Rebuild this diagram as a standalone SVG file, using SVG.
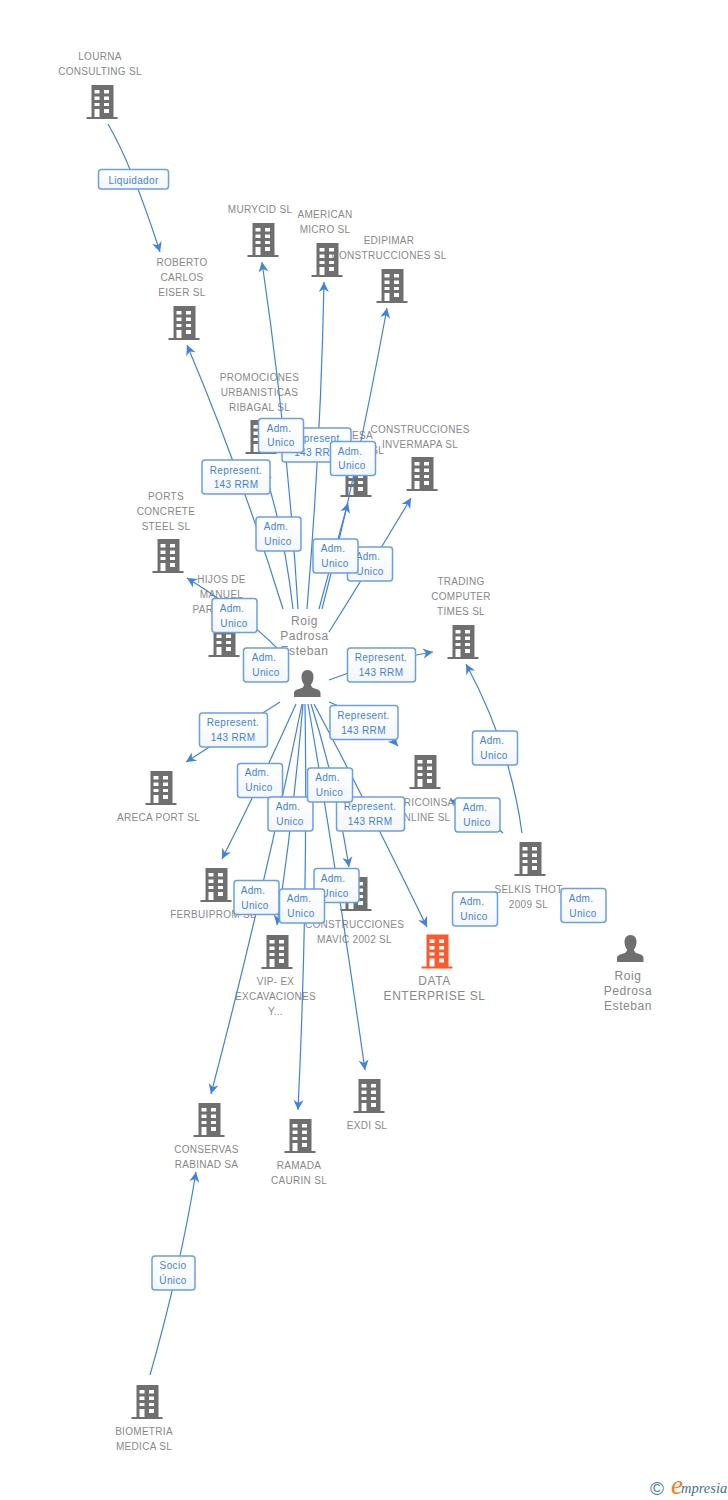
<svg xmlns="http://www.w3.org/2000/svg" width="728" height="1500" viewBox="0 0 728 1500">
<style>
text{font-family:"Liberation Sans",Arial,sans-serif}
.n{font-size:10px;letter-spacing:.3px;fill:#888;text-anchor:middle}
.b{font-size:12px;letter-spacing:.55px;fill:#888;text-anchor:middle}
.e path{fill:none;stroke:#3f82e0;stroke-width:1.2}
.l rect{fill:url(#g);stroke:#6a9fe8;stroke-width:1.5}
.l text{font-size:10px;letter-spacing:.35px;fill:#3f82e0;text-anchor:middle}
</style>
<defs>
<linearGradient id="g" x1="0" y1="0" x2="0" y2="1"><stop offset="0" stop-color="#fff"/><stop offset="1" stop-color="#f4f6fa"/></linearGradient>
<marker id="a" markerUnits="userSpaceOnUse" markerWidth="14" markerHeight="12" refX="11" refY="6" orient="auto"><path d="M11,6 L1,1 L4,6 L1,11Z" fill="#3f82e0"/></marker>
<symbol id="bd" width="31" height="34" viewBox="0 0 31 34" overflow="visible"><path fill-rule="evenodd" d="M5,0H27V32H31V34H0V32H5ZM8,5V8.5H13V5ZM17.5,5V8.5H22.5V5ZM8,11.5V15H13V11.5ZM17.5,11.5V15H22.5V11.5ZM8,18V21H13V18ZM17.5,18V21H22.5V18ZM8,24V32H13V24ZM17.5,24V28H22.5V24Z"/></symbol>
<symbol id="pr" width="27" height="27" viewBox="0 0 27 27"><path d="M13.5,0C17.5,0 19.5,3 19.5,7C19.5,10 18.5,12.5 17,14.5C17,16.5 18,17.5 20,18.3C24,19.5 26.5,20.5 26.5,23V27H0V23C0,20.5 3,19.5 7,18.3C9,17.5 10,16.5 10,14.5C8.5,12.5 7.5,10 7.5,7C7.5,3 9.5,0 13.5,0Z"/></symbol>
</defs>
<g id="n-lourna" fill="#6f6f6f"><use href="#bd" x="86.5" y="85"/><text class="n" x="100" y="60">LOURNA</text><text class="n" x="100" y="75">CONSULTING SL</text></g>
<g id="n-roberto" fill="#6f6f6f"><use href="#bd" x="168.5" y="306"/><text class="n" x="182" y="266">ROBERTO</text><text class="n" x="182" y="281">CARLOS</text><text class="n" x="182" y="296">EISER SL</text></g>
<g id="n-murycid" fill="#6f6f6f"><use href="#bd" x="247.5" y="223"/><text class="n" x="260" y="213">MURYCID SL</text></g>
<g id="n-edipimar" fill="#6f6f6f"><use href="#bd" x="376.5" y="269"/><text class="n" x="389" y="244">EDIPIMAR</text><text class="n" x="389" y="259">CONSTRUCCIONES SL</text></g>
<g id="n-american" fill="#6f6f6f"><use href="#bd" x="311.5" y="243"/><text class="n" x="325" y="218">AMERICAN</text><text class="n" x="325" y="233">MICRO SL</text></g>
<g id="n-promociones" fill="#6f6f6f"><use href="#bd" x="245.5" y="420"/><text class="n" x="259.5" y="381">PROMOCIONES</text><text class="n" x="259.5" y="396">URBANISTICAS</text><text class="n" x="259.5" y="411">RIBAGAL SL</text></g>
<g id="n-esa" fill="#6f6f6f"><use href="#bd" x="340.5" y="463"/><text class="n" style="text-anchor:end" x="373" y="439">ESA</text><text class="n" style="text-anchor:end" x="384" y="454">SL</text></g>
<g id="n-invermapa" fill="#6f6f6f"><use href="#bd" x="406.5" y="457"/><text class="n" x="420" y="433">CONSTRUCCIONES</text><text class="n" x="420" y="448">INVERMAPA SL</text></g>
<g id="n-ports" fill="#6f6f6f"><use href="#bd" x="152.5" y="539"/><text class="n" x="166" y="500">PORTS</text><text class="n" x="166" y="515">CONCRETE</text><text class="n" x="166" y="530">STEEL SL</text></g>
<g id="n-hijos" fill="#6f6f6f"><use href="#bd" x="208.5" y="623"/><text class="n" x="221.5" y="583">HIJOS DE</text><text class="n" x="221.5" y="598">MANUEL</text><text class="n" style="text-anchor:start" x="192.5" y="613">PAR</text></g>
<g id="n-trading" fill="#6f6f6f"><use href="#bd" x="447.5" y="625"/><text class="n" x="461" y="585">TRADING</text><text class="n" x="461" y="600">COMPUTER</text><text class="n" x="461" y="615">TIMES SL</text></g>
<g id="n-areca" fill="#6f6f6f"><use href="#bd" x="145.5" y="771"/><text class="n" x="158.5" y="821">ARECA PORT SL</text></g>
<g id="n-ferbuiprom" fill="#6f6f6f"><use href="#bd" x="200.5" y="868"/><text class="n" x="213" y="918">FERBUIPROM SL</text></g>
<g id="n-vip" fill="#6f6f6f"><use href="#bd" x="261.5" y="935"/><text class="n" x="275.5" y="985">VIP- EX</text><text class="n" x="275.5" y="1000">EXCAVACIONES</text><text class="n" x="275.5" y="1015">Y...</text></g>
<g id="n-mavic" fill="#6f6f6f"><use href="#bd" x="340.5" y="877"/><text class="n" x="354.5" y="928">CONSTRUCCIONES</text><text class="n" x="354.5" y="943">MAVIC 2002 SL</text></g>
<g id="n-tricoinsa" fill="#6f6f6f"><use href="#bd" x="409.5" y="755"/><text class="n" x="426" y="806">TRICOINSA</text><text class="n" x="423" y="821">ONLINE SL</text></g>
<g id="n-data" fill="#fa5a2c"><use href="#bd" x="421.5" y="934.5"/><text class="b" x="434.5" y="985">DATA</text><text class="b" x="434.5" y="1000">ENTERPRISE SL</text></g>
<g id="n-selkis" fill="#6f6f6f"><use href="#bd" x="514.5" y="842"/><text class="n" x="528.5" y="893">SELKIS THOT</text><text class="n" x="528.5" y="908">2009 SL</text></g>
<g id="n-roig2" fill="#6f6f6f"><use href="#pr" x="617" y="935"/><text class="b" x="628" y="980">Roig</text><text class="b" x="628" y="995">Pedrosa</text><text class="b" x="628" y="1010">Esteban</text></g>
<g id="n-roig1" fill="#6f6f6f"><use href="#pr" x="294" y="670"/><text class="b" x="304.5" y="625">Roig</text><text class="b" x="304.5" y="640">Padrosa</text><text class="b" x="304.5" y="655">Esteban</text></g>
<g id="n-exdi" fill="#6f6f6f"><use href="#bd" x="353.5" y="1079"/><text class="n" x="367" y="1129">EXDI SL</text></g>
<g id="n-conservas" fill="#6f6f6f"><use href="#bd" x="193.5" y="1103"/><text class="n" x="206.5" y="1153">CONSERVAS</text><text class="n" x="206.5" y="1168">RABINAD SA</text></g>
<g id="n-ramada" fill="#6f6f6f"><use href="#bd" x="284.5" y="1119"/><text class="n" x="299" y="1169">RAMADA</text><text class="n" x="299" y="1184">CAURIN SL</text></g>
<g id="n-biometria" fill="#6f6f6f"><use href="#bd" x="131.5" y="1385"/><text class="n" x="144" y="1435">BIOMETRIA</text><text class="n" x="144" y="1450">MEDICA SL</text></g>
<g id="connectors" class="e">
<path marker-end="url(#a)" d="M108,124Q132,165 160,252"/>
<path marker-end="url(#a)" d="M283,609Q240,470 187,345"/>
<path marker-end="url(#a)" d="M298,609Q288,440 262,262"/>
<path marker-end="url(#a)" d="M293,609Q284,530 264,470"/>
<path marker-end="url(#a)" d="M307,609Q321,440 324,282"/>
<path marker-end="url(#a)" d="M322,609Q355,482 387,308"/>
<path marker-end="url(#a)" d="M319,609Q333,556 348,503"/>
<path marker-end="url(#a)" d="M329,632Q368,570 411,498"/>
<path marker-end="url(#a)" d="M284,655Q240,610 187,578"/>
<path d="M285,678L250,655"/>
<path marker-end="url(#a)" d="M329,680Q380,660 433,652"/>
<path marker-end="url(#a)" d="M280,702L186,762"/>
<path marker-end="url(#a)" d="M329,702Q375,720 398,746"/>
<path marker-end="url(#a)" d="M296,704Q262,780 222,859"/>
<path marker-end="url(#a)" d="M302,704Q262,900 211,1094"/>
<path marker-end="url(#a)" d="M303,704Q293,820 277,925"/>
<path marker-end="url(#a)" d="M305,704Q308,900 298,1110"/>
<path marker-end="url(#a)" d="M308,704Q335,860 365,1070"/>
<path marker-end="url(#a)" d="M311,704Q335,780 349,867"/>
<path marker-end="url(#a)" d="M314,704Q360,790 427,927"/>
<path marker-end="url(#a)" d="M522,833Q510,745 466,664"/>
<path marker-end="url(#a)" d="M503,833Q480,812 450,800"/>
<path marker-end="url(#a)" d="M150,1375Q180,1270 196,1172"/>
</g>
<g id="edge-labels" class="l">
<g><rect x="98.5" y="169.5" width="70" height="19.5" rx="3"/><text x="133.5" y="183.5">Liquidador</text></g>
<g><rect x="202" y="460" width="68" height="34" rx="3"/><text x="236" y="473.5">Represent.</text><text x="236" y="488">143 RRM</text></g>
<g><rect x="282" y="428" width="69" height="34" rx="3"/><text x="316.5" y="441.5">Represent.</text><text x="316.5" y="456">143 RRM</text></g>
<g><rect x="258.5" y="418.5" width="45" height="34" rx="3"/><text dx="-2" x="281" y="431.5">Adm.</text><text x="281" y="446">Unico</text></g>
<g><rect x="330.5" y="441.5" width="45" height="34" rx="3"/><text dx="-2" x="352" y="454.5">Adm.</text><text x="352" y="469">Unico</text></g>
<g><rect x="256" y="517" width="45" height="34" rx="3"/><text dx="-2" x="278" y="530">Adm.</text><text x="278" y="545">Unico</text></g>
<g><rect x="347.5" y="547" width="45" height="34" rx="3"/><text dx="-2" x="370" y="560">Adm.</text><text x="370" y="575">Unico</text></g>
<g><rect x="313" y="539" width="45" height="34" rx="3"/><text dx="-2" x="335" y="552">Adm.</text><text x="335" y="567">Unico</text></g>
<g><rect x="212" y="598.5" width="45" height="34" rx="3"/><text dx="-2" x="234" y="612">Adm.</text><text x="234" y="627">Unico</text></g>
<g><rect x="243.5" y="648" width="45" height="34" rx="3"/><text dx="-2" x="266" y="661">Adm.</text><text x="266" y="676">Unico</text></g>
<g><rect x="347.5" y="648" width="68" height="34" rx="3"/><text x="381" y="661">Represent.</text><text x="381" y="676">143 RRM</text></g>
<g><rect x="199.5" y="713" width="68" height="34" rx="3"/><text x="233" y="726">Represent.</text><text x="233" y="741">143 RRM</text></g>
<g><rect x="330" y="705.5" width="68" height="34" rx="3"/><text x="363.5" y="718.5">Represent.</text><text x="363.5" y="733.5">143 RRM</text></g>
<g><rect x="237.5" y="763.5" width="45" height="34" rx="3"/><text dx="-2" x="259" y="776">Adm.</text><text x="259" y="791">Unico</text></g>
<g><rect x="268" y="797" width="45" height="34" rx="3"/><text dx="-2" x="290" y="810">Adm.</text><text x="290" y="825">Unico</text></g>
<g><rect x="336.5" y="797" width="68" height="34" rx="3"/><text x="370" y="810">Represent.</text><text x="370" y="825">143 RRM</text></g>
<g><rect x="307.5" y="768" width="45" height="34" rx="3"/><text dx="-2" x="329.5" y="781">Adm.</text><text x="329.5" y="796">Unico</text></g>
<g><rect x="314" y="868.5" width="45" height="34" rx="3"/><text dx="-2" x="335" y="882">Adm.</text><text x="335" y="897">Unico</text></g>
<g><rect x="234" y="880.5" width="45" height="34" rx="3"/><text dx="-2" x="255" y="894">Adm.</text><text x="255" y="909">Unico</text></g>
<g><rect x="279.5" y="889" width="45" height="34" rx="3"/><text dx="-2" x="301" y="902">Adm.</text><text x="301" y="917">Unico</text></g>
<g><rect x="472.5" y="731" width="45" height="34" rx="3"/><text dx="-2" x="494" y="744">Adm.</text><text x="494" y="759">Unico</text></g>
<g><rect x="455" y="798" width="45" height="34" rx="3"/><text dx="-2" x="477" y="811">Adm.</text><text x="477" y="826">Unico</text></g>
<g><rect x="452.5" y="892" width="45" height="34" rx="3"/><text dx="-2" x="474" y="905">Adm.</text><text x="474" y="920">Unico</text></g>
<g><rect x="561" y="888.5" width="45" height="34" rx="3"/><text dx="-2" x="583" y="902">Adm.</text><text x="583" y="917">Unico</text></g>
<g><rect x="152" y="1256" width="43" height="34" rx="3"/><text x="173" y="1269">Socio</text><text x="173" y="1284">Único</text></g>
</g>
<g id="logo"><text x="650" y="1495" font-size="19" fill="#4a7f9a">©</text><text x="671" y="1494" font-size="27" fill="#f08020" font-style="italic" style="font-family:'Liberation Serif',serif">e</text><text x="681" y="1493" font-size="14.5" fill="#3f7290" font-style="italic" style="font-family:'Liberation Serif',serif">mpresia</text></g>
</svg>
